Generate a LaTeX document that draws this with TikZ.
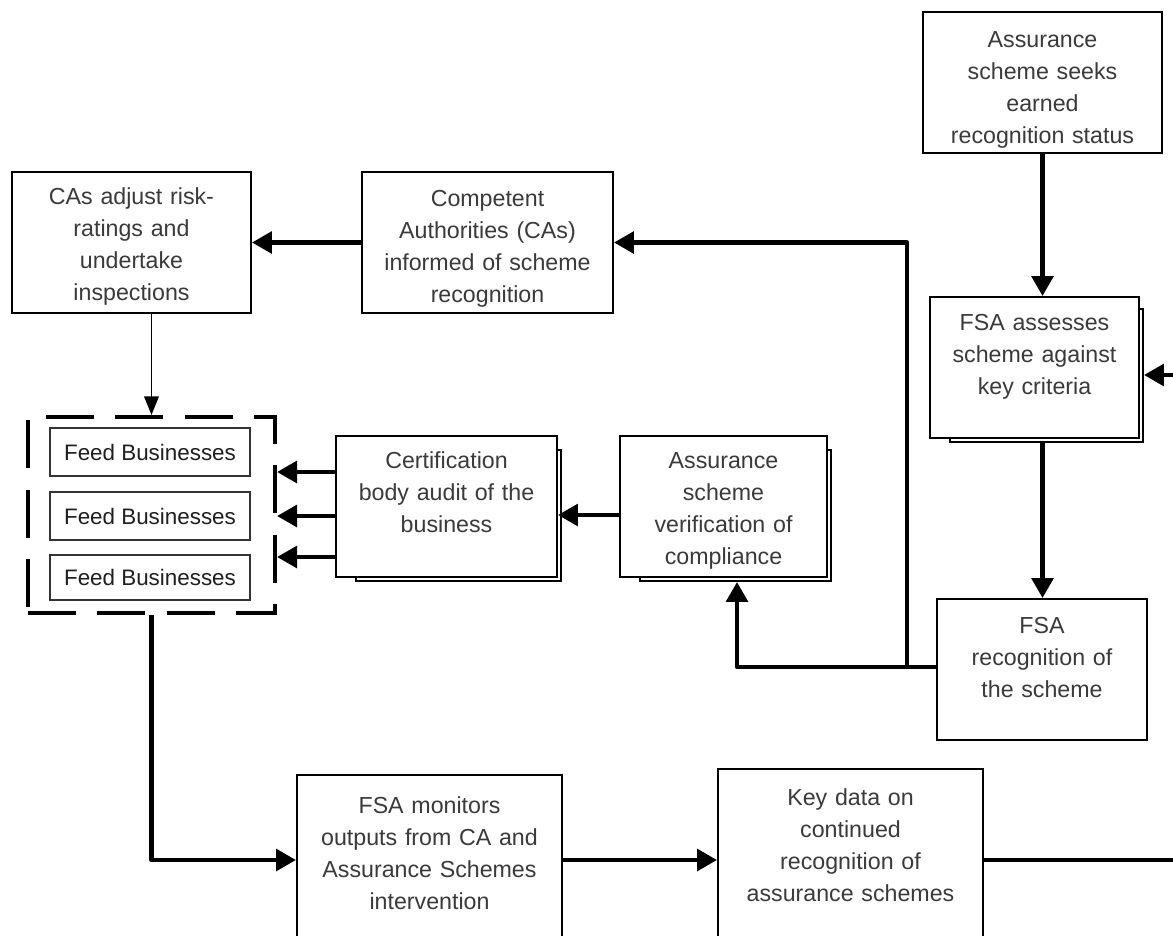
\documentclass[tikz,border=0pt]{standalone}
\usepackage{fontspec}
\setmainfont{Liberation Sans}
\usetikzlibrary{arrows.meta,fit}
\definecolor{txtcol}{HTML}{3A3A3A}
\begin{document}
\begin{tikzpicture}[x=0.75pt,y=-0.75pt,
  box/.style={draw=black,line width=1.4pt,fill=white,inner sep=0pt},
  txt/.style={text=txtcol,font=\fontsize{17.4}{24}\selectfont,text width=240pt,align=center,anchor=base,inner sep=0pt},
  feed/.style={draw=black!80,line width=1.2pt,fill=white,inner sep=0pt},
  feedtxt/.style={inner sep=0pt,text=black!88,font=\fontsize{16.8}{20}\selectfont,anchor=center},
  conn/.style={line width=3.6pt,line join=round},
  arr/.style={conn,-{Triangle[length=15pt,width=16pt]}},
  thinarr/.style={line width=1.1pt,-{Triangle[length=14pt,width=11pt]}},
  dashbox/.style={draw=black,line width=3pt,dash pattern=on 36pt off 16pt,inner sep=0pt}
]
\useasboundingbox (0,0) rectangle (1173,935);
\clip (0,0) rectangle (1173,935);

% shadows
\node[box,fit={(950,309) (1143,442)}] (assess-s) {};
\node[box,fit={(356,450) (561,581)}] (cert-s) {};
\node[box,fit={(640,450) (831,581)}] (verif-s) {};

% boxes
\node[box,fit={(923,12) (1162,153)}] (seek) {};
\node[box,fit={(930,297) (1139,438)}] (assess) {};
\node[box,fit={(937,599) (1147,740)}] (recog) {};
\node[box,fit={(362,172) (613,313)}] (comp) {};
\node[box,fit={(12,172) (251,313)}] (cas) {};
\node[box,fit={(336,436) (557,577)}] (cert) {};
\node[box,fit={(620,436) (827,577)}] (verif) {};
\node[box,fit={(297,775) (562,945)}] (mon) {};
\node[box,fit={(718,769) (983,945)}] (key) {};

% feed businesses group
\node[dashbox,fit={(28,417) (275,613)}] (fb) {};
\node[feed,fit={(50,428) (250,476)}] (fb1) {};
\node[feed,fit={(50,492) (250,540)}] (fb2) {};
\node[feed,fit={(50,555) (250,600)}] (fb3) {};
\node[feedtxt] (fb1-t) at (fb1.center) {Feed Businesses};
\node[feedtxt] (fb2-t) at (fb2.center) {Feed Businesses};
\node[feedtxt] (fb3-t) at (fb3.center) {Feed Businesses};

% texts
\node[txt] (seek-t) at (1042.5,47) {Assurance\\scheme seeks\\earned\\recognition status};
\node[txt] (assess-t) at (1034.5,330) {FSA assesses\\scheme against\\key criteria};
\node[txt] (recog-t) at (1042,633) {FSA\\recognition of\\the scheme};
\node[txt] (comp-t) at (487.5,206) {Competent\\Authorities (CAs)\\informed of scheme\\recognition};
\node[txt] (cas-t) at (131.5,204) {CAs adjust risk-\\ratings and\\undertake\\inspections};
\node[txt] (cert-t) at (446.5,468) {Certification\\body audit of the\\business};
\node[txt] (verif-t) at (723.5,468) {Assurance\\scheme\\verification of\\compliance};
\node[txt] (mon-t) at (429.5,813) {FSA monitors\\outputs from CA and\\Assurance Schemes\\intervention};
\node[txt] (key-t) at (850.5,805) {Key data on\\continued\\recognition of\\assurance schemes};

% connector points
\coordinate (rin) at (1173,375);
\coordinate (rout) at (1173,860);
\coordinate (j1) at (907,667);
\coordinate (j2) at (737,667);
\coordinate (av) at (0,515);

% connectors
\draw[arr] (seek.south) -- (seek.south |- assess.north);
\draw[arr] (seek.south |- assess-s.south) -- (seek.south |- recog.north);
\draw[arr] (rin) -- (assess-s.east |- rin);
\draw[conn] (recog.west |- j1) -- (j1);
\draw[arr] (j1) -- (j2) -- (j2 |- verif-s.south);
\draw[arr] (j1) -- (j1 |- comp.east) -- (comp.east);
\draw[arr] (comp.west) -- (cas.east);
\draw[thinarr] (cas.south -| fb.north) -- (fb.north);
\draw[arr] (verif.west |- av) -- (cert.east |- av);
\draw[arr] (cert.west |- 0,472) -- (fb.east |- 0,472);
\draw[arr] (cert.west |- 0,516) -- (fb.east |- 0,516);
\draw[arr] (cert.west |- 0,557) -- (fb.east |- 0,557);
\draw[arr] (fb.south) -- (fb.south |- mon.west) -- (mon.west);
\draw[arr] (mon.east) -- (mon.east -| key.west);
\draw[conn] (key.east |- rout) -- (rout);
\end{tikzpicture}
\end{document}
